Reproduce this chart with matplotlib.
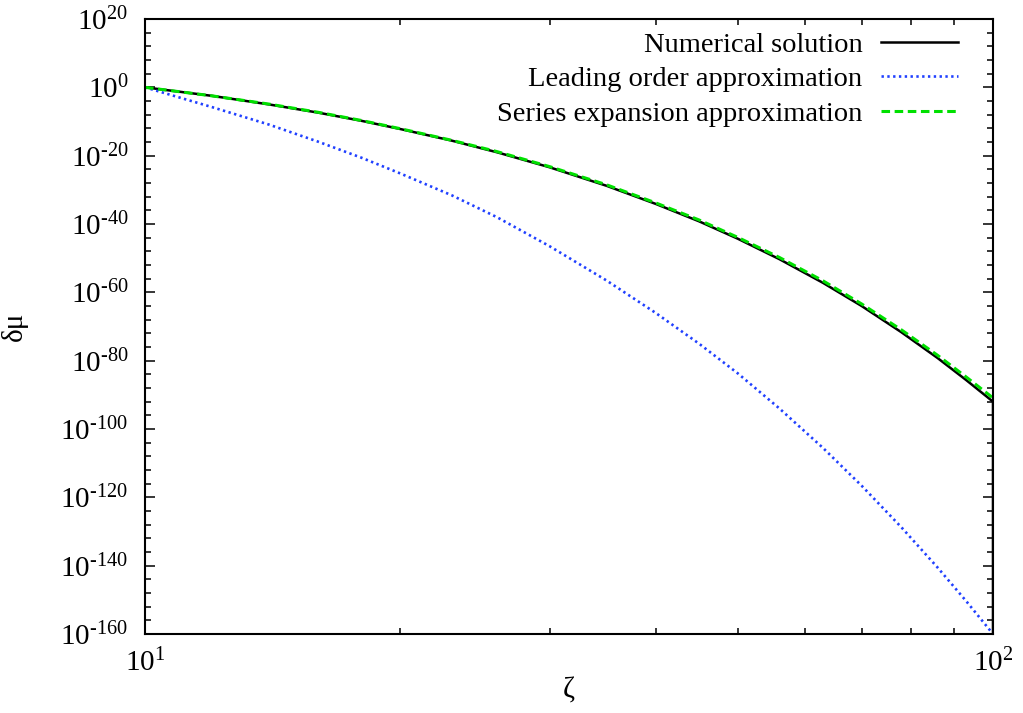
import matplotlib
matplotlib.use('Agg')
import matplotlib.pyplot as plt
from matplotlib.ticker import FixedLocator, FuncFormatter, NullFormatter
import numpy as np

plt.rcParams['font.family'] = ['Liberation Serif', 'DejaVu Serif']
plt.rcParams['mathtext.fontset'] = 'custom'
plt.rcParams['mathtext.rm'] = 'Liberation Serif'

# values (log10 of delta mu)
zeta = [10, 12, 14, 16, 18, 20, 23, 26, 30, 35, 40, 45, 50, 56, 63, 70, 78, 86, 93, 100]
log_num = [0, -2.5, -5.0, -7.4, -9.8, -12.2, -15.6, -19.0, -23.4, -28.8, -34.1, -39.2,
           -44.3, -50.3, -57.2, -64.0, -71.7, -79.2, -85.7, -92.0]
log_lead = [0, -5.8, -10.9, -15.9, -20.6, -25.2, -31.6, -38.0, -46.5, -56.5, -66.0, -75.0,
            -83.7, -94.0, -105.5, -116.6, -128.8, -140.5, -150.4, -160.0]
log_ser = [0, -2.5, -4.9, -7.3, -9.7, -12.1, -15.5, -18.8, -23.2, -28.5, -33.8, -38.8,
           -43.9, -49.8, -56.6, -63.4, -71.0, -78.4, -84.8, -90.9]
# numerical solution falls off the bottom at zeta = 100
drop_log = -200

fig = plt.figure(figsize=(10.23, 7.13), dpi=100)
ax = fig.add_axes([145/1023, 1-634/713, 848/1023, 615/713])

ax.plot(zeta + [zeta[-1]], 10.0**np.array(log_num + [drop_log]), color='black', lw=1.8,
        label='Numerical solution')
ax.plot(zeta, 10.0**np.array(log_lead), color='#2040ff', lw=1.9, dashes=(0.9, 1.3),
        label='Leading order approximation')
ax.plot(zeta, 10.0**np.array(log_ser), color='#00e000', lw=2.2, dashes=(2.8, 1.5),
        label='Series expansion approximation')

ax.set_xscale('log')
ax.set_yscale('log')
ax.set_xlim(10, 100)
ax.set_ylim(1e-160, 1e20)

ax.xaxis.set_major_locator(FixedLocator([10, 100]))
ax.xaxis.set_minor_locator(FixedLocator(np.arange(20, 100, 10)))
ax.yaxis.set_major_locator(FixedLocator(10.0**np.arange(-160, 21, 20)))
ax.yaxis.set_minor_locator(FixedLocator([10.0**k for k in range(-160, 21, 4) if k % 20 != 0]))
ax.xaxis.set_minor_formatter(NullFormatter())
ax.yaxis.set_minor_formatter(NullFormatter())


def sci(v, pos):
    e = int(round(np.log10(v)))
    s = str(e).replace('-', '\u2010')
    return r'$\mathregular{10^{%s}}$' % s


ax.xaxis.set_major_formatter(FuncFormatter(sci))
ax.yaxis.set_major_formatter(FuncFormatter(sci))

ax.tick_params(which='both', direction='in', top=True, right=True, width=1.1, labelsize=21)
ax.tick_params(which='major', length=7)
ax.tick_params(which='minor', length=4)
ax.tick_params(axis='x', pad=11)
ax.tick_params(axis='y', pad=12)
for s in ax.spines.values():
    s.set_linewidth(1.5)

ax.set_xlabel('ζ', fontsize=21)
ax.set_ylabel('δμ', fontsize=21)
ax.xaxis.set_label_coords(0.5, -0.07)
ax.yaxis.set_label_coords(-0.138, 0.5)

ax.legend(loc='upper right', frameon=False, markerfirst=False, fontsize=20.5,
          handlelength=2.7, handletextpad=0.65, labelspacing=0.3, borderpad=0,
          borderaxespad=0, bbox_to_anchor=(958/1023, 1-32/713), bbox_transform=fig.transFigure)

plt.savefig('out.png', dpi=100)
